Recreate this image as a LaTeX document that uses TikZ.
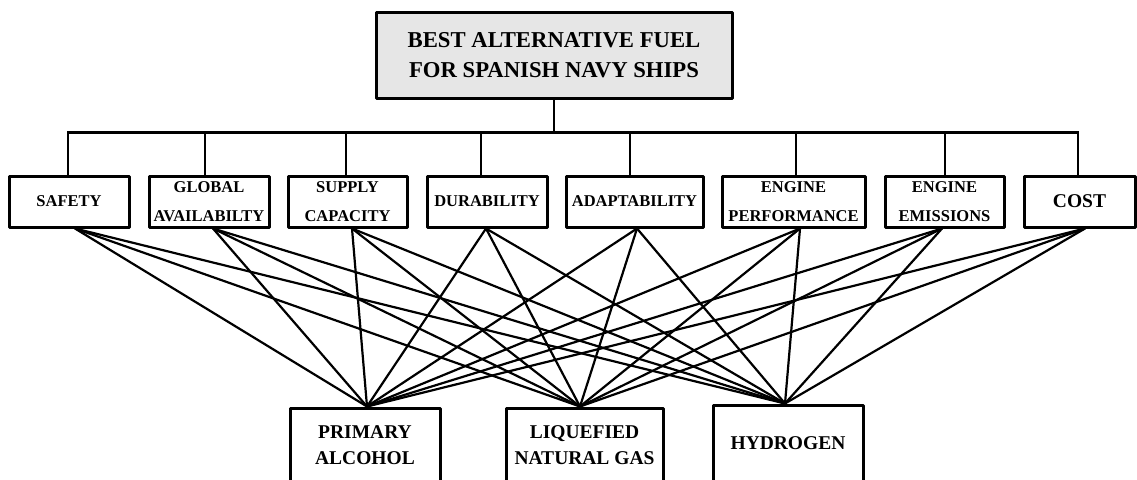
\documentclass[tikz,border=0pt]{standalone}
\usepackage{fontspec}
\setmainfont{Liberation Serif}
\definecolor{topgray}{HTML}{E6E6E6}
\begin{document}
\begin{tikzpicture}[x=1pt,y=-1pt,
  box/.style={draw=black, line width=3pt, rectangle, inner sep=0pt, align=center, line join=round},
  crit/.style={box, minimum height=51pt, font=\fontsize{16.5}{29}\selectfont\bfseries},
  alt/.style={box, font=\fontsize{19.5}{26}\selectfont\bfseries},
  conn/.style={line width=2.2pt},
  bus/.style={line width=2.2pt}]
\clip (0,0) rectangle (1137,479);
\fill[white] (0,0) rectangle (1137,479);
% goal
\node[box, fill=topgray, minimum width=356pt, minimum height=86pt,
      font=\fontsize{22.7}{29.5}\selectfont\bfseries] (goal) at (554,55)
      {BEST ALTERNATIVE FUEL\\FOR SPANISH NAVY SHIPS};
% criteria
\node[crit, minimum width=120pt] (safety) at (69,201.5) {SAFETY};
\node[crit, minimum width=120pt] (global) at (209,201.5) {GLOBAL\\AVAILABILTY};
\node[crit, minimum width=119pt] (supply) at (347.5,201.5) {SUPPLY\\CAPACITY};
\node[crit, minimum width=120pt] (dura) at (487,201.5) {DURABILITY};
\node[crit, minimum width=137pt] (adapt) at (634.5,201.5) {ADAPTABILITY};
\node[crit, minimum width=143pt] (perf) at (793.5,201.5) {ENGINE\\PERFORMANCE};
\node[crit, minimum width=119pt] (emis) at (944.5,201.5) {ENGINE\\EMISSIONS};
\node[crit, minimum width=111pt, font=\fontsize{19.5}{26}\selectfont\bfseries] (cost) at (1079.5,201.5) {COST};
% alternatives
\node[alt, minimum width=150pt, minimum height=75pt] (pa) at (365,445.5) {PRIMARY\\ALCOHOL};
\node[alt, minimum width=157pt, minimum height=75pt] (lng) at (584.5,445.5) {LIQUEFIED\\NATURAL GAS};
\node[alt, minimum width=150pt, minimum height=77pt] (hyd) at (788,443.5) {HYDROGEN};
% bus
\coordinate (bus) at ([yshift=-33pt]goal.south);
\draw[bus] (goal.south) -- (bus);
\draw[bus, line cap=rect] ([xshift=-1pt]safety.north |- bus) -- ([xshift=-1.5pt]cost.north |- bus);
\draw[bus] ([xshift=-1pt]safety.north) -- ([xshift=-1pt]safety.north |- bus);
\draw[bus] ([xshift=-4pt]global.north) -- ([xshift=-4pt]global.north |- bus);
\draw[bus] ([xshift=-1.5pt]supply.north) -- ([xshift=-1.5pt]supply.north |- bus);
\draw[bus] ([xshift=-6pt]dura.north) -- ([xshift=-6pt]dura.north |- bus);
\draw[bus] ([xshift=-4.5pt]adapt.north) -- ([xshift=-4.5pt]adapt.north |- bus);
\draw[bus] ([xshift=2.5pt]perf.north) -- ([xshift=2.5pt]perf.north |- bus);
\draw[bus] ([xshift=0.5pt]emis.north) -- ([xshift=0.5pt]emis.north |- bus);
\draw[bus] ([xshift=-1.5pt]cost.north) -- ([xshift=-1.5pt]cost.north |- bus);
% connectors
\coordinate (sA) at ([xshift=6pt]safety.south);
\coordinate (sB) at ([xshift=4pt]global.south);
\coordinate (sC) at ([xshift=4.5pt]supply.south);
\coordinate (sD) at ([xshift=-1pt]dura.south);
\coordinate (sE) at ([xshift=2.5pt]adapt.south);
\coordinate (sF) at ([xshift=6.5pt]perf.south);
\coordinate (sG) at ([xshift=-2.5pt]emis.south);
\coordinate (sH) at ([xshift=5.5pt]cost.south);
\coordinate (tP) at ([xshift=2pt]pa.north);
\coordinate (tL) at ([xshift=-4.5pt]lng.north);
\coordinate (tH) at ([xshift=-3pt]hyd.north);
\foreach \s in {sA,sB,sC,sD,sE,sF,sG,sH}{
  \foreach \t in {tP,tL,tH}{
    \draw[conn] (\s) -- (\t);
  }
}
\end{tikzpicture}
\end{document}
